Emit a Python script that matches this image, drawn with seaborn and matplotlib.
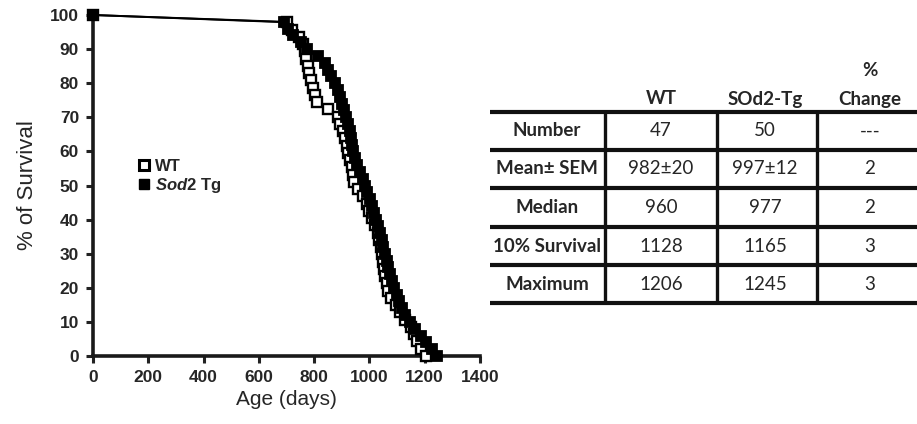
import numpy as np
import pandas as pd
import matplotlib
matplotlib.use("Agg")
import matplotlib.pyplot as plt
from matplotlib.lines import Line2D
import seaborn as sns

# ---- data (ages at death, days) ----
wt_ages = [700, 720, 745, 760, 768, 772, 778, 782, 790, 797, 803, 810, 850, 885,
           895, 905, 912, 918, 922, 930, 936, 940, 944, 960, 975, 990, 1000, 1010,
           1020, 1030, 1036, 1042, 1046, 1050, 1054, 1058, 1062, 1068, 1078, 1095,
           1110, 1128, 1150, 1160, 1172, 1186, 1206]
tg_ages = [690, 705, 725, 752, 775, 815, 838, 850, 862, 874, 886, 893, 900, 908,
           916, 923, 928, 932, 937, 942, 947, 955, 965, 975, 983, 992, 1002, 1009,
           1016, 1023, 1030, 1038, 1044, 1050, 1056, 1062, 1068, 1075, 1081, 1090,
           1098, 1108, 1118, 1130, 1146, 1165, 1185, 1205, 1225, 1245]
groups = ["WT", "Sod2 Tg"]
x_ticks = [0, 200, 400, 600, 800, 1000, 1200, 1400]
y_ticks = [0, 10, 20, 30, 40, 50, 60, 70, 80, 90, 100]

table_header = ["WT", "SOd2-Tg", "%", "Change"]
table_rows = ["Number", "Mean\u00b1 SEM", "Median", "10% Survival", "Maximum"]
table_wt = ["47", "982\u00b120", "960", "1128", "1206"]
table_tg = ["50", "997\u00b112", "977", "1165", "1245"]
table_change = ["---", "2", "2", "3", "3"]


def survival_frame(ages, name):
    n = len(ages)
    xs = [0] + list(ages)
    ys = [100.0] + [100.0 * (n - i - 1) / n for i in range(n)]
    return pd.DataFrame({"age": xs, "surv": ys, "group": name})


df_wt = survival_frame(wt_ages, groups[0])
df_tg = survival_frame(tg_ages, groups[1])

sns.set_style("ticks")
plt.rcParams["font.family"] = ["Liberation Sans", "DejaVu Sans"]
plt.rcParams["mathtext.fontset"] = "custom"
plt.rcParams["mathtext.it"] = "Liberation Sans:italic:bold"
plt.rcParams["mathtext.rm"] = "Liberation Sans:bold"

W, H = 917, 424
fig = plt.figure(figsize=(W / 100, H / 100), dpi=100)
ax = fig.add_axes([93 / W, 1 - 356 / H, (480 - 93) / W, (356 - 15) / H])

sns.lineplot(data=df_wt, x="age", y="surv", ax=ax, color="black", estimator=None,
             sort=False, marker="s", markersize=7.2, markerfacecolor="white",
             markeredgecolor="black", markeredgewidth=1.7, linewidth=1.4,
             clip_on=False, zorder=3)
sns.lineplot(data=df_tg, x="age", y="surv", ax=ax, color="black", estimator=None,
             sort=False, marker="s", markersize=7.2, markerfacecolor="black",
             markeredgecolor="black", markeredgewidth=1.3, linewidth=1.4,
             clip_on=False, zorder=4)

ax.set_xlim(0, 1400)
ax.set_ylim(0, 100)
ax.set_xticks(x_ticks)
ax.set_yticks(y_ticks)
ax.set_xticklabels([str(t) for t in x_ticks], fontweight="bold", fontsize=12.5)
ax.set_yticklabels([str(t) for t in y_ticks], fontweight="bold", fontsize=12.5)
ax.tick_params(axis="both", direction="out", length=5, width=2.2, color="#222222", pad=5)
for s in ["top", "right"]:
    ax.spines[s].set_visible(False)
for s in ["left", "bottom"]:
    ax.spines[s].set_linewidth(2.6)
    ax.spines[s].set_color("#1a1a1a")
ax.set_xlabel("Age (days)", fontsize=15, labelpad=4)
ax.set_ylabel("% of Survival", fontsize=16, labelpad=9)

handles = [
    Line2D([], [], marker="s", linestyle="none", markersize=7, markerfacecolor="white",
           markeredgecolor="black", markeredgewidth=2.2),
    Line2D([], [], marker="s", linestyle="none", markersize=7, markerfacecolor="black",
           markeredgecolor="black"),
]
labels = ["WT", r"$\mathit{Sod2}$ Tg"]
ax.legend(handles, labels, loc="upper left", bbox_to_anchor=(137 / W, 1 - 159 / H),
          bbox_transform=fig.transFigure, frameon=False,
          prop={"size": 12, "weight": "bold"}, handletextpad=0.3,
          labelspacing=0.1, borderaxespad=0, borderpad=0, handlelength=0.8)

# ---- table ----
tx = fig.add_axes([0, 0, 1, 1])
tx.set_xlim(0, W)
tx.set_ylim(H, 0)
tx.axis("off")
tfont = ["Lato", "DejaVu Sans"]

row_lines = [112, 150, 188, 227, 265, 303]
for yv in row_lines:
    tx.plot([490, W], [yv, yv], color="#111111", linewidth=3.0, solid_capstyle="butt")
for xv in [605, 717, 817]:
    tx.plot([xv, xv], [112, 303], color="#111111", linewidth=2.4, solid_capstyle="butt")

fs = 13.5
col_centers = [547, 661, 765, 870]
tx.text(col_centers[1], 99, table_header[0], ha="center", va="center",
        fontsize=fs, fontweight="bold", family=tfont)
tx.text(col_centers[2], 99, table_header[1], ha="center", va="center",
        fontsize=fs, fontweight="bold", family=tfont)
tx.text(col_centers[3], 71, table_header[2], ha="center", va="center",
        fontsize=fs, fontweight="bold", family=tfont)
tx.text(col_centers[3], 99, table_header[3], ha="center", va="center",
        fontsize=fs, fontweight="bold", family=tfont)

for i, lab in enumerate(table_rows):
    yc = (row_lines[i] + row_lines[i + 1]) / 2
    tx.text(col_centers[0], yc, lab, ha="center", va="center", fontsize=fs,
            fontweight="bold", family=tfont)
    for j, vals in enumerate([table_wt, table_tg, table_change]):
        tx.text(col_centers[j + 1], yc, vals[i], ha="center", va="center",
                fontsize=fs, family=tfont)

fig.savefig("out.png", dpi=100)
